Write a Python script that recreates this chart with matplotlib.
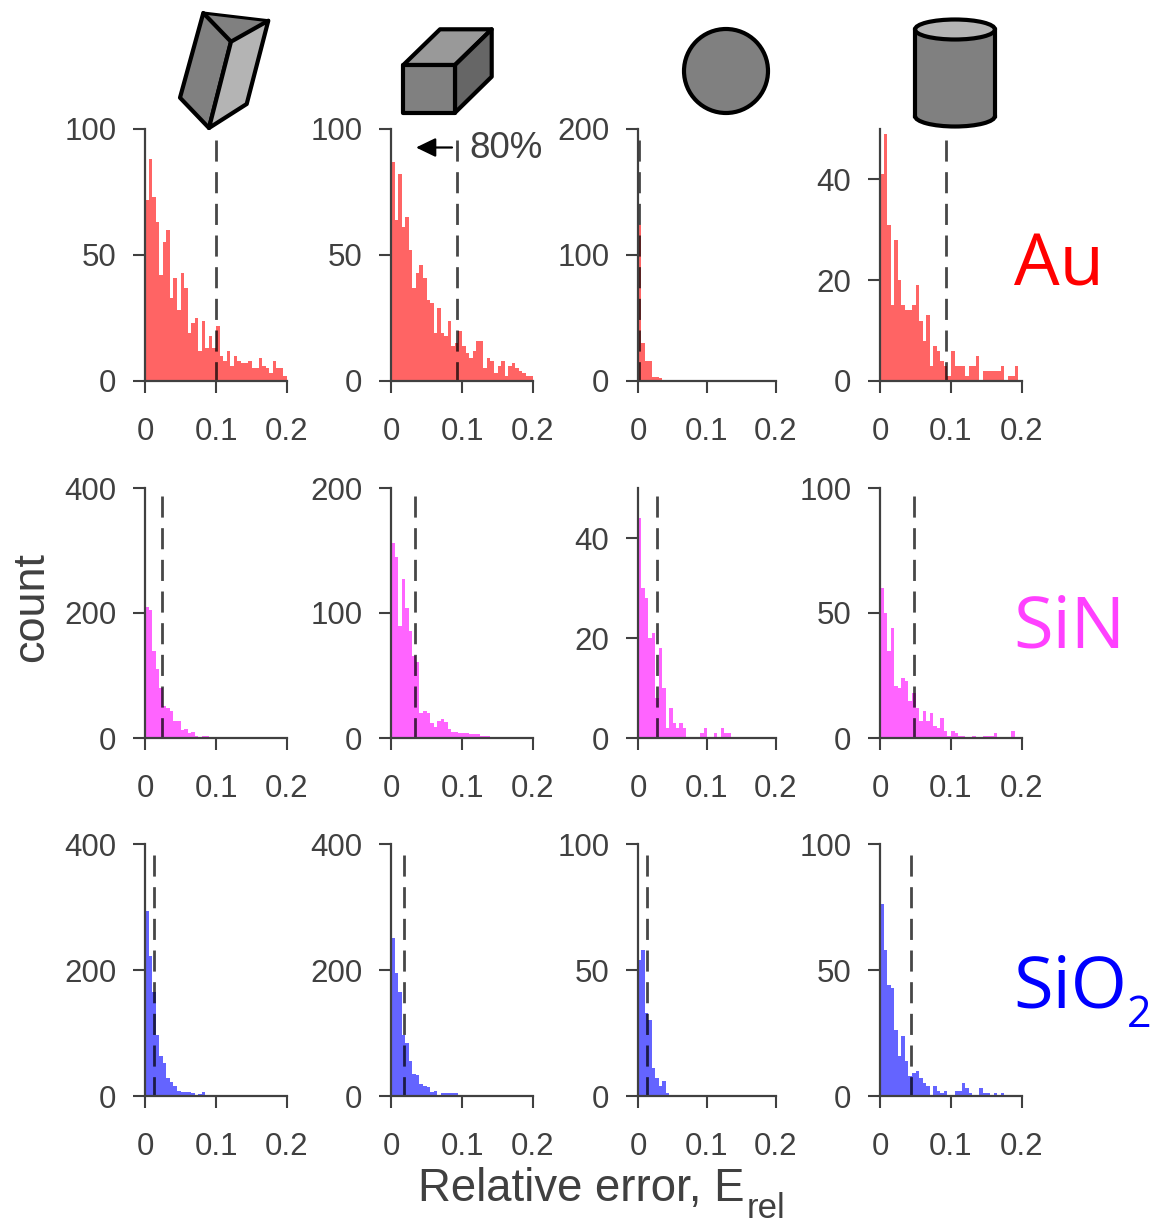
import matplotlib
matplotlib.use("Agg")
import matplotlib.pyplot as plt
from matplotlib.patches import Polygon, Circle, Ellipse, Rectangle
import numpy as np

W, H = 1155, 1226
plt.rcParams['font.family'] = ['Liberation Sans', 'DejaVu Sans']
GRAY = '#404040'

BIN_WIDTH = 0.005
x_ticks = [0, 0.1, 0.2]
x_tick_labels = ['0', '0.1', '0.2']
colors = ['#ff6464', '#ff64ff', '#6464ff']

au_1 = [72,88,73,63,42,55,60,33,41,28,43,37,19,23,25,12,24,13,18,13,22,10,8,12,6,10,8,7,7,8,5,5,9,6,5,3,8,5,5,2]
au_2 = [87,64,82,61,65,52,37,43,46,41,32,31,19,29,19,18,24,14,15,20,14,11,9,12,16,16,5,9,8,3,6,8,2,6,7,5,4,3,2,2]
au_3 = [124,30,16,16,3,3,2,1,1,1,0,0,0,0,0,0,1,0,1,1,0,0,0,0,0,0,0,0,0,0,0,0,0,0,0,0,0,0,0,0]
au_4 = [41,49,31,15,28,20,15,14,14,15,19,12,8,13,3,7,6,4,3,1,6,3,3,3,1,3,3,5,0,2,2,2,2,2,3,0,1,1,3,0]
sin_1 = [210,205,140,110,80,52,48,43,28,28,13,15,8,10,4,2,3,3,2,2,1,0,0,0,0,1,0,1,0,0,0,0,0,1,0,0,0,0,0,0]
sin_2 = [156,145,90,127,104,86,66,61,20,22,20,12,9,14,15,13,7,5,5,4,4,4,3,3,3,2,2,2,1,1,1,0,0,0,1,0,0,0,0,0]
sin_3 = [44,30,28,20,21,8,18,10,2,6,3,2,3,2,0,0,0,0,1,2,0,0,1,0,2,1,1,0,0,0,0,0,0,0,0,0,0,0,0,0]
sin_4 = [60,50,35,44,21,20,24,23,15,18,12,7,11,7,10,5,4,8,3,1,3,2,1,1,0,0,1,0,0,1,1,1,2,0,0,0,0,3,0,0]
sio_1 = [293,223,165,97,63,53,29,23,16,8,7,6,6,5,2,3,6,1,0,0,0,0,1,1,0,0,0,0,0,0,0,0,0,0,0,0,0,0,0,0]
sio_2 = [251,196,165,97,84,56,35,33,19,16,14,6,8,2,5,4,4,5,4,2,0,0,0,0,0,2,0,0,0,1,0,0,0,0,1,0,0,0,0,0]
sio_3 = [54,58,33,30,11,7,4,6,1,0,0,0,0,0,0,0,0,0,0,0,0,0,0,0,0,0,0,0,0,0,0,0,0,0,0,0,0,0,0,0]
sio_4 = [76,58,44,43,26,16,24,14,8,9,10,7,5,4,0,4,2,1,2,0,0,2,2,5,3,1,0,0,3,1,1,0,1,0,1,0,0,0,0,0]

counts = [[au_1, au_2, au_3, au_4], [sin_1, sin_2, sin_3, sin_4], [sio_1, sio_2, sio_3, sio_4]]
thresholds = [[0.1, 0.093, 0.002, 0.093], [0.0235, 0.034, 0.028, 0.048], [0.0128, 0.018, 0.0125, 0.044]]
y_max = [[100, 100, 200, 50], [400, 200, 50, 100], [400, 400, 100, 100]]
y_ticks = [[[0,50,100],[0,50,100],[0,100,200],[0,20,40]],
           [[0,200,400],[0,100,200],[0,20,40],[0,50,100]],
           [[0,200,400],[0,200,400],[0,50,100],[0,50,100]]]

col_px = [(145, 287), (391, 533), (638, 776), (880, 1022)]
row_px = [(129, 381), (488, 738), (844, 1096)]
dash_top = [0.956, 0.968, 0.956]

fig = plt.figure(figsize=(W/100, H/100), dpi=100, facecolor='white')

for r in range(3):
    for c in range(4):
        x0, x1 = col_px[c]
        y0, y1 = row_px[r]
        ax = fig.add_axes([x0/W, 1-y1/H, (x1-x0)/W, (y1-y0)/H])
        vals = counts[r][c]
        edges = np.arange(len(vals)+1)*BIN_WIDTH
        ax.stairs(vals, edges, fill=True, color=colors[r], linewidth=0, zorder=2)
        ax.plot([thresholds[r][c]]*2, [dash_top[r], 0], transform=ax.get_xaxis_transform(),
                color='black', alpha=0.72, lw=2.0, ls=(0, (7.6, 3.8)), zorder=3, clip_on=False,
                dash_capstyle='butt')
        ax.set_xlim(0, 0.2)
        ax.set_ylim(0, y_max[r][c])
        ax.set_xticks(x_ticks, x_tick_labels)
        ax.set_yticks(y_ticks[r][c])
        for s in ('top', 'right'):
            ax.spines[s].set_visible(False)
        for s in ('left', 'bottom'):
            ax.spines[s].set_color(GRAY)
            ax.spines[s].set_linewidth(1.6)
            ax.spines[s].set_zorder(4)
        ax.tick_params(axis='both', direction='out', length=8.6, width=1.5, color=GRAY,
                       labelcolor=GRAY, labelsize=22.5)
        ax.tick_params(axis='y', pad=12)
        ax.tick_params(axis='x', pad=17.5)
        ax.patch.set_alpha(0)

# overlay in pixel coordinates for icons and annotations
ov = fig.add_axes([0, 0, 1, 1], zorder=10)
ov.set_xlim(0, W); ov.set_ylim(H, 0); ov.axis('off'); ov.patch.set_alpha(0)
LW = 3.0
def poly(pts, fc, lw=LW, ec='black'):
    ov.add_patch(Polygon(pts, closed=True, fc=fc, ec=ec, lw=lw, joinstyle='round'))

# prism
TL, TR, IN, BF, LB, RB = (203.3,13), (268.3,20.7), (231,41.7), (209,128), (180,97.7), (246.7,104)
poly([TL, TR, IN], '#808080', lw=1.0, ec='#1f2f55')
poly([TL, IN, BF, LB], '#808080')
poly([IN, TR, RB, BF], '#b4b4b4')
ov.plot([TL[0], TR[0]], [TL[1], TR[1]], color='black', lw=2.2)
# box
poly([(403.3,65),(440,29.3),(491.7,29.3),(455,65)], '#999999')
poly([(455,65),(491.7,29.3),(491.7,76.7),(455,112.7)], '#666666')
poly([(403.3,65),(455,65),(455,112.7),(403.3,112.7)], '#808080')
# sphere
ov.add_patch(Circle((726,71), 42, fc='#808080', ec='black', lw=LW))
# cylinder
ov.add_patch(Ellipse((955,116), 80, 21, fc='#808080', ec='black', lw=LW))
ov.add_patch(Rectangle((915,29.5), 80, 86.5, fc='#808080', ec='none'))
ov.plot([915,915],[29.5,116], color='black', lw=LW)
ov.plot([995,995],[29.5,116], color='black', lw=LW)
ov.add_patch(Ellipse((955,29.5), 80, 20, fc='#b4b4b4', ec='black', lw=LW))

# 80% annotation
ov.annotate('', xy=(416,147.5), xytext=(452,147.5),
            arrowprops=dict(arrowstyle='-|>,head_width=0.29,head_length=0.6', mutation_scale=20,
                            color='black', lw=1.6, shrinkA=0, shrinkB=0))
ov.text(469, 148.5, '80%', fontsize=26.5, color=GRAY, va='center', ha='left')

# material labels
FAM = ['Open Sans', 'DejaVu Sans']
ov.text(1014, 286, 'Au', fontsize=52, color='#ff0000', family=FAM, ha='left', va='baseline')
ov.text(1013, 647, 'SiN', fontsize=52, color='#ff40ff', family=FAM, ha='left', va='baseline')
ov.text(1013, 1008, 'SiO', fontsize=52, color='#0000ff', family=FAM, ha='left', va='baseline')
ov.text(1127, 1027, '2', fontsize=31, color='#0000ff', family=FAM, ha='left', va='baseline')

# axis labels
ov.text(32, 607, 'count', fontsize=32.5, color=GRAY, rotation=90, ha='center', va='center')
ov.text(418, 1201, 'Relative error, E', fontsize=32.8, color=GRAY, ha='left', va='baseline')
ov.text(747, 1218.5, 'rel', fontsize=25, color=GRAY, ha='left', va='baseline')

fig.savefig('out.png', dpi=100, facecolor='white')
